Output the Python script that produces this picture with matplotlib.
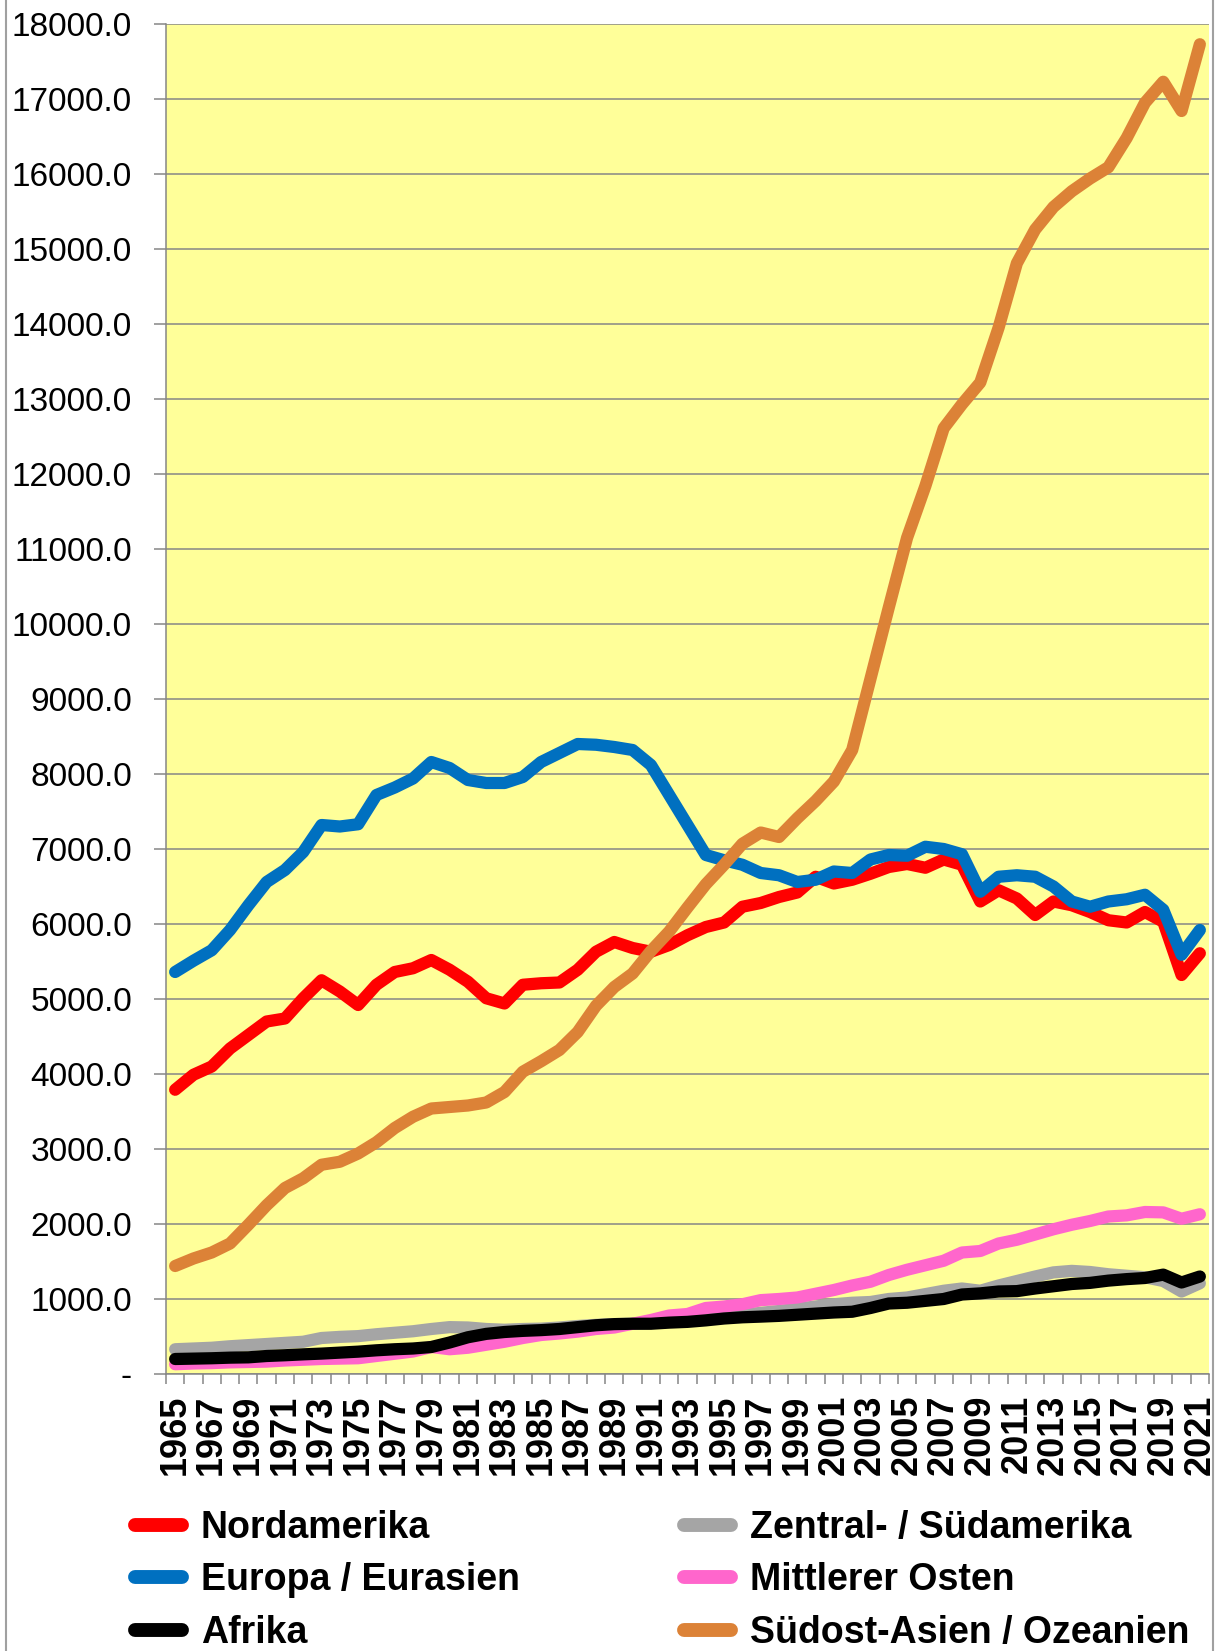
import matplotlib
matplotlib.use("Agg")
import matplotlib.pyplot as plt
from matplotlib.patches import Rectangle
from matplotlib.ticker import FixedLocator, FuncFormatter

plt.rcParams['font.family'] = ['Liberation Sans', 'DejaVu Sans']

# Jahre 1965..2021
years = list(range(1965, 2022))

nordamerika = [3790, 3990, 4100, 4340, 4520, 4700, 4740, 5010, 5250, 5100,
               4920, 5190, 5360, 5410, 5520, 5390, 5230, 5010, 4940, 5190,
               5210, 5220, 5390, 5630, 5760, 5680, 5630, 5720, 5850, 5960,
               6020, 6230, 6280, 6360, 6420, 6630, 6540, 6590, 6670, 6760,
               6800, 6750, 6860, 6790, 6300, 6450, 6340, 6120, 6300, 6250,
               6160, 6050, 6020, 6160, 6030, 5320, 5610]
zentral_sued = [330, 340, 350, 370, 385, 400, 415, 430, 480, 495,
                505, 530, 550, 570, 600, 625, 620, 600, 590, 600,
                605, 620, 640, 655, 665, 670, 680, 700, 720, 740,
                770, 790, 815, 840, 870, 900, 930, 950, 960, 1000,
                1020, 1065, 1110, 1140, 1110, 1180, 1240, 1300, 1355, 1375,
                1360, 1330, 1310, 1290, 1240, 1100, 1210]
europa = [5360, 5510, 5650, 5920, 6250, 6560, 6720, 6960, 7320, 7300,
          7330, 7720, 7820, 7940, 8160, 8080, 7920, 7880, 7880, 7960,
          8160, 8280, 8400, 8390, 8360, 8320, 8120, 7720, 7320, 6920,
          6850, 6790, 6680, 6650, 6560, 6590, 6700, 6680, 6860, 6920,
          6910, 7030, 7000, 6930, 6430, 6630, 6650, 6630, 6500, 6300,
          6230, 6300, 6330, 6390, 6190, 5590, 5920]
mittlerer_osten = [130, 140, 145, 155, 160, 165, 180, 190, 200, 205,
                   210, 240, 270, 300, 360, 330, 350, 390, 430, 480,
                   520, 540, 565, 600, 620, 670, 720, 780, 800, 880,
                   900, 930, 985, 1000, 1020, 1070, 1120, 1180, 1230, 1320,
                   1390, 1450, 1510, 1620, 1640, 1740, 1790, 1860, 1930, 1990,
                   2040, 2100, 2115, 2160, 2155, 2070, 2130]
afrika = [200, 205, 210, 218, 222, 240, 250, 262, 272, 285,
          298, 316, 330, 340, 360, 420, 490, 535, 560, 575,
          585, 600, 625, 650, 665, 670, 670, 685, 695, 715,
          740, 756, 765, 775, 790, 805, 820, 830, 880, 940,
          950, 975, 1000, 1060, 1075, 1100, 1105, 1140, 1170, 1200,
          1215, 1245, 1265, 1280, 1325, 1220, 1300]
suedost_asien = [1440, 1540, 1620, 1740, 1990, 2250, 2480, 2610, 2790, 2830,
                 2940, 3090, 3280, 3430, 3540, 3560, 3580, 3620, 3760, 4030,
                 4170, 4320, 4560, 4910, 5160, 5340, 5640, 5900, 6220, 6530,
                 6790, 7070, 7220, 7160, 7410, 7640, 7900, 8320, 9270, 10220,
                 11150, 11840, 12610, 12930, 13220, 13950, 14810, 15260, 15560, 15770,
                 15940, 16090, 16480, 16950, 17230, 16840, 17730]

# Reihenfolge wie in Excel (spätere Reihen liegen oben)
serien = [
    ("Nordamerika", nordamerika, "#FF0000"),
    ("Zentral- / Südamerika", zentral_sued, "#A5A5A5"),
    ("Europa / Eurasien", europa, "#0070C0"),
    ("Mittlerer Osten", mittlerer_osten, "#FF66CC"),
    ("Afrika", afrika, "#000000"),
    ("Südost-Asien / Ozeanien", suedost_asien, "#DC8237"),
]

grau = "#868686"

fig = plt.figure(figsize=(12.23, 16.51), dpi=100)
ax = fig.add_axes([166 / 1223, 1 - 1374 / 1651, (1209 - 166) / 1223, (1374 - 24) / 1651])
ax.set_facecolor("#FFFF99")

x = list(range(len(years)))
linien = {}
for name, werte, farbe in serien:
    l, = ax.plot(x, werte, color=farbe, lw=8.8, label=name,
                 solid_capstyle="round", solid_joinstyle="round")
    linien[name] = l

ax.set_xlim(-0.5, len(years) - 0.5)
ax.set_ylim(0, 18000)

# y-Achse
ax.set_yticks(range(0, 18001, 1000))
ax.yaxis.set_major_formatter(FuncFormatter(lambda v, p: "-" if v == 0 else f"{v:.1f}"))
ax.tick_params(axis="y", direction="out", length=8.5, width=1.1, color=grau,
               labelsize=24, pad=16)
ax.grid(axis="y", color=grau, lw=1.1)
ax.set_axisbelow(True)

# x-Achse: Beschriftung jedes zweite Jahr, Striche an den Kategoriegrenzen
ax.set_xticks(x[::2])
ax.set_xticklabels([str(j) for j in years[::2]], rotation=90, fontweight="bold")
ax.xaxis.set_minor_locator(FixedLocator([i - 0.5 for i in range(len(years) + 1)]))
ax.tick_params(axis="x", which="major", length=0, labelsize=26, pad=15)
ax.tick_params(axis="x", which="minor", direction="out", length=7.5, width=1.1, color=grau)

for s in ["top", "right"]:
    ax.spines[s].set_visible(False)
for s in ["left", "bottom"]:
    ax.spines[s].set_color(grau)
    ax.spines[s].set_linewidth(1.1)

# Legende: zwei Spalten, zeilenweise wie im Original
reihenfolge = ["Nordamerika", "Europa / Eurasien", "Afrika",
               "Zentral- / Südamerika", "Mittlerer Osten", "Südost-Asien / Ozeanien"]
leg = fig.legend([linien[n] for n in reihenfolge], reihenfolge, ncol=2,
                 loc="upper left", bbox_to_anchor=(135 / 1223, 1 - 1510 / 1651),
                 frameon=False, prop={"size": 27, "weight": "bold"},
                 handlelength=1.25, handletextpad=0.5, columnspacing=4.39,
                 labelspacing=0.44, borderaxespad=0, borderpad=0)
for h in leg.legend_handles:
    h.set_linewidth(10)
    h.set_solid_capstyle("round")

# Rahmen des Diagrammbereichs
fig.patches.append(Rectangle((6 / 1223, -0.01), (1213 - 6) / 1223, 1.02,
                             transform=fig.transFigure, fill=False,
                             edgecolor="#A0A0A0", lw=1.5))

fig.savefig("out.png", dpi=100)
